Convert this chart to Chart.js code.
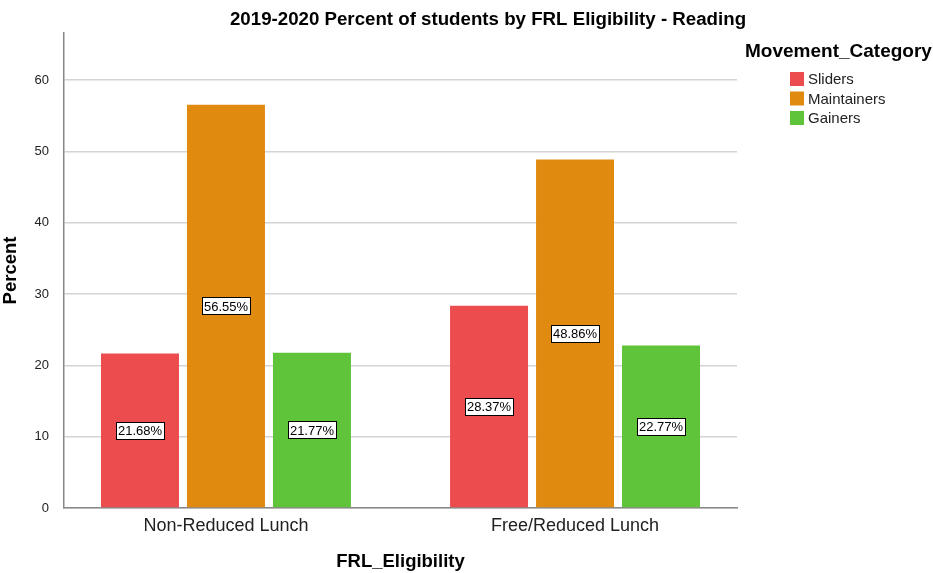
<!DOCTYPE html>
<html>
<head>
<meta charset="utf-8">
<script src="https://cdn.jsdelivr.net/npm/chart.js@4.4.0/dist/chart.umd.min.js"></script>
<style>
  html, body { margin: 0; padding: 0; background: #fff; }
  #wrap { width: 933px; height: 573px; position: relative; }
</style>
</head>
<body>
<div id="wrap"><canvas id="chart" width="933" height="573"></canvas></div>
<script>
// -------- Data ----------
const categories = ["Non-Reduced Lunch", "Free/Reduced Lunch"];
const sliders = [21.68, 28.37];
const maintainers = [56.55, 48.86];
const gainers = [21.77, 22.77];
const seriesNames = ["Sliders", "Maintainers", "Gainers"];
const seriesColors = ["#ED4C4F", "#E08B10", "#5FC43A"];
const yTicks = [0, 10, 20, 30, 40, 50, 60];

const FONT = "Arial, 'Liberation Sans', sans-serif";

// value labels in white boxes at half bar height
const boxLabels = {
  id: "boxLabels",
  afterDatasetsDraw(chart) {
    const ctx = chart.ctx;
    ctx.save();
    ctx.font = "13px " + FONT;
    ctx.textAlign = "center";
    ctx.textBaseline = "middle";
    chart.data.datasets.forEach((ds, i) => {
      chart.getDatasetMeta(i).data.forEach((bar, j) => {
        const txt = ds.data[j].toFixed(2) + "%";
        const y = (bar.y + bar.base) / 2;
        const w = Math.round(ctx.measureText(txt).width + 4);
        const h = 17;
        const bx = Math.round(bar.x - w / 2) + 0.5, by = Math.round(y - h / 2) + 0.5;
        ctx.fillStyle = "#fff";
        ctx.fillRect(bx, by, w, h);
        ctx.strokeStyle = "#000";
        ctx.lineWidth = 1;
        ctx.strokeRect(bx, by, w, h);
        ctx.fillStyle = "#000";
        ctx.fillText(txt, bar.x, y + 1);
      });
    });
    ctx.restore();
  }
};

// title and legend drawn by hand
const sideText = {
  id: "sideText",
  afterDraw(chart) {
    const ctx = chart.ctx;
    ctx.save();
    ctx.fillStyle = "#000";
    ctx.font = "bold 18.7px " + FONT;
    ctx.textAlign = "center";
    ctx.textBaseline = "middle";
    ctx.fillText("2019-2020 Percent of students by FRL Eligibility - Reading", 488, 20);

    ctx.textAlign = "left";
    ctx.font = "bold 19px " + FONT;
    ctx.fillText("Movement_Category", 745, 52);
    ctx.font = "15px " + FONT;
    seriesNames.forEach((n, i) => {
      const y = 79 + i * 19.5;
      ctx.fillStyle = seriesColors[i];
      ctx.fillRect(790, y - 7, 14, 14);
      ctx.fillStyle = "#222";
      ctx.fillText(n, 808, y + 1);
    });
    ctx.restore();
  }
};

const datasets = [sliders, maintainers, gainers].map((d, i) => ({
  label: seriesNames[i],
  data: d,
  backgroundColor: seriesColors[i],
  borderWidth: 0,
  categoryPercentage: 0.739,
  barPercentage: 0.907
}));

new Chart(document.getElementById("chart"), {
  type: "bar",
  data: { labels: categories.map((_, i) => i), datasets },
  plugins: [boxLabels, sideText],
  options: {
    responsive: false,
    animation: false,
    layout: { padding: { top: 33, right: 196, left: 0, bottom: 0 } },
    plugins: { legend: { display: false }, title: { display: false }, tooltip: { enabled: false } },
    scales: {
      x: {
        type: "linear",
        min: -0.464,
        max: 1.464,
        offset: false,
        afterFit: (s) => { s.height = 65; },
        afterBuildTicks: (s) => { s.ticks = categories.map((_, i) => ({ value: i })); },
        grid: { display: false, drawTicks: false },
        border: { color: "#888", width: 1.5 },
        ticks: { color: "#222", font: { size: 18, family: FONT }, padding: 7, callback: (v) => categories[v] },
        title: { display: true, text: "FRL_Eligibility", color: "#000", font: { size: 18.5, weight: "bold", family: FONT }, padding: { top: 8, bottom: 0 } }
      },
      y: {
        min: 0,
        max: 66.6,
        afterFit: (s) => { s.width = 64; },
        afterBuildTicks: (s) => { s.ticks = yTicks.map(v => ({ value: v })); },
        grid: { color: "#d4d4d4", lineWidth: 1.5, drawTicks: false },
        border: { color: "#888", width: 1.5 },
        ticks: { color: "#222", font: { size: 13, family: FONT }, padding: 15 },
        title: { display: true, text: "Percent", color: "#000", font: { size: 18.5, weight: "bold", family: FONT }, padding: { top: 0, bottom: 0 } }
      }
    }
  }
});
</script>
</body>
</html>
